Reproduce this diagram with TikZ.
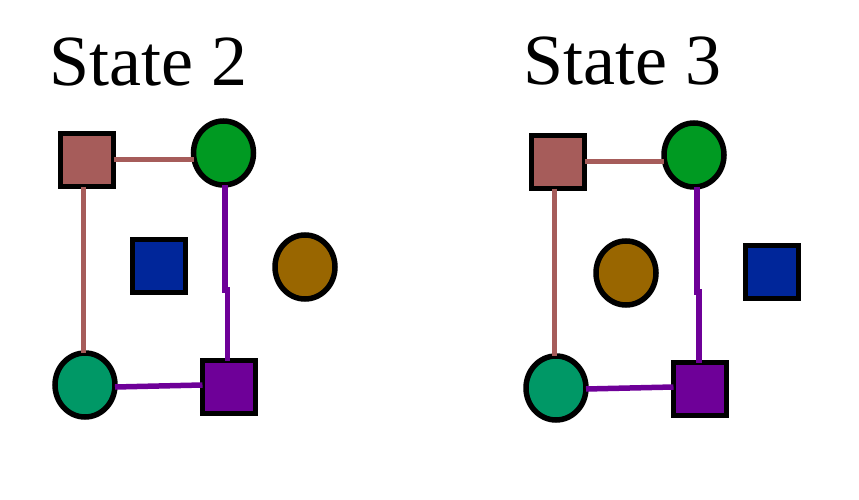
\documentclass[tikz,border=0pt]{standalone}
\usepackage{fontspec}
\setmainfont{Liberation Serif}
\usetikzlibrary{shapes.geometric}
\definecolor{sqbrown}{RGB}{166,92,90}
\definecolor{cgreen}{RGB}{0,154,34}
\definecolor{sqblue}{RGB}{0,38,154}
\definecolor{cbrown}{RGB}{153,102,0}
\definecolor{cteal}{RGB}{0,152,102}
\definecolor{sqpurple}{RGB}{110,0,152}
\begin{document}
\begin{tikzpicture}[x=1pt,y=-1pt,
  sq/.style={draw=black,line width=5.5pt,minimum size=53pt,inner sep=0pt,outer sep=0pt},
  circ/.style={draw=black,line width=5.5pt,ellipse,minimum width=60pt,minimum height=64pt,inner sep=0pt,outer sep=0pt},
  brownline/.style={draw=sqbrown,line width=5pt},
  purpline/.style={draw=sqpurple,line width=5.5pt},
  title/.style={font=\fontsize{72}{72}\selectfont,anchor=base west,inner sep=0pt}]
\useasboundingbox (0,0) rectangle (859,500);
% State 2
\node[title] (t2) at (49,86) {State 2};
\node[sq,fill=sqbrown] (a1) at (87,160) {};
\node[circ,fill=cgreen] (b1) at (223.5,153) {};
\node[sq,fill=sqblue] (c1) at (159,266) {};
\node[circ,fill=cbrown] (d1) at (305,267) {};
\node[circ,fill=cteal] (e1) at (85,385) {};
\node[sq,fill=sqpurple] (f1) at (229,387) {};
\draw[brownline] (a1.east |- 0,159) -- (b1.west |- 0,159);
\draw[brownline] (a1.south -| 83,0) -- (e1.north -| 83,0);
\draw[purpline] (b1.south -| 225,0) -- (225,290) -- (227.5,290) -- (f1.north -| 227.5,0);
\draw[purpline] (e1.east |- 0,387) -- (f1.west |- 0,385);
% State 3
\node[title] (t3) at (523,85) {State 3};
\node[sq,fill=sqbrown] (a2) at (558,162) {};
\node[circ,fill=cgreen] (b2) at (694,155) {};
\node[circ,fill=cbrown] (c2) at (626,273) {};
\node[sq,fill=sqblue] (d2) at (772,272) {};
\node[circ,fill=cteal] (e2) at (556,388) {};
\node[sq,fill=sqpurple] (f2) at (700,389) {};
\draw[brownline] (a2.east |- 0,161) -- (b2.west |- 0,161);
\draw[brownline] (a2.south -| 554,0) -- (e2.north -| 554,0);
\draw[purpline] (b2.south -| 697,0) -- (697,292) -- (699,292) -- (f2.north -| 699,0);
\draw[purpline] (e2.east |- 0,389) -- (f2.west |- 0,387);
\end{tikzpicture}
\end{document}
